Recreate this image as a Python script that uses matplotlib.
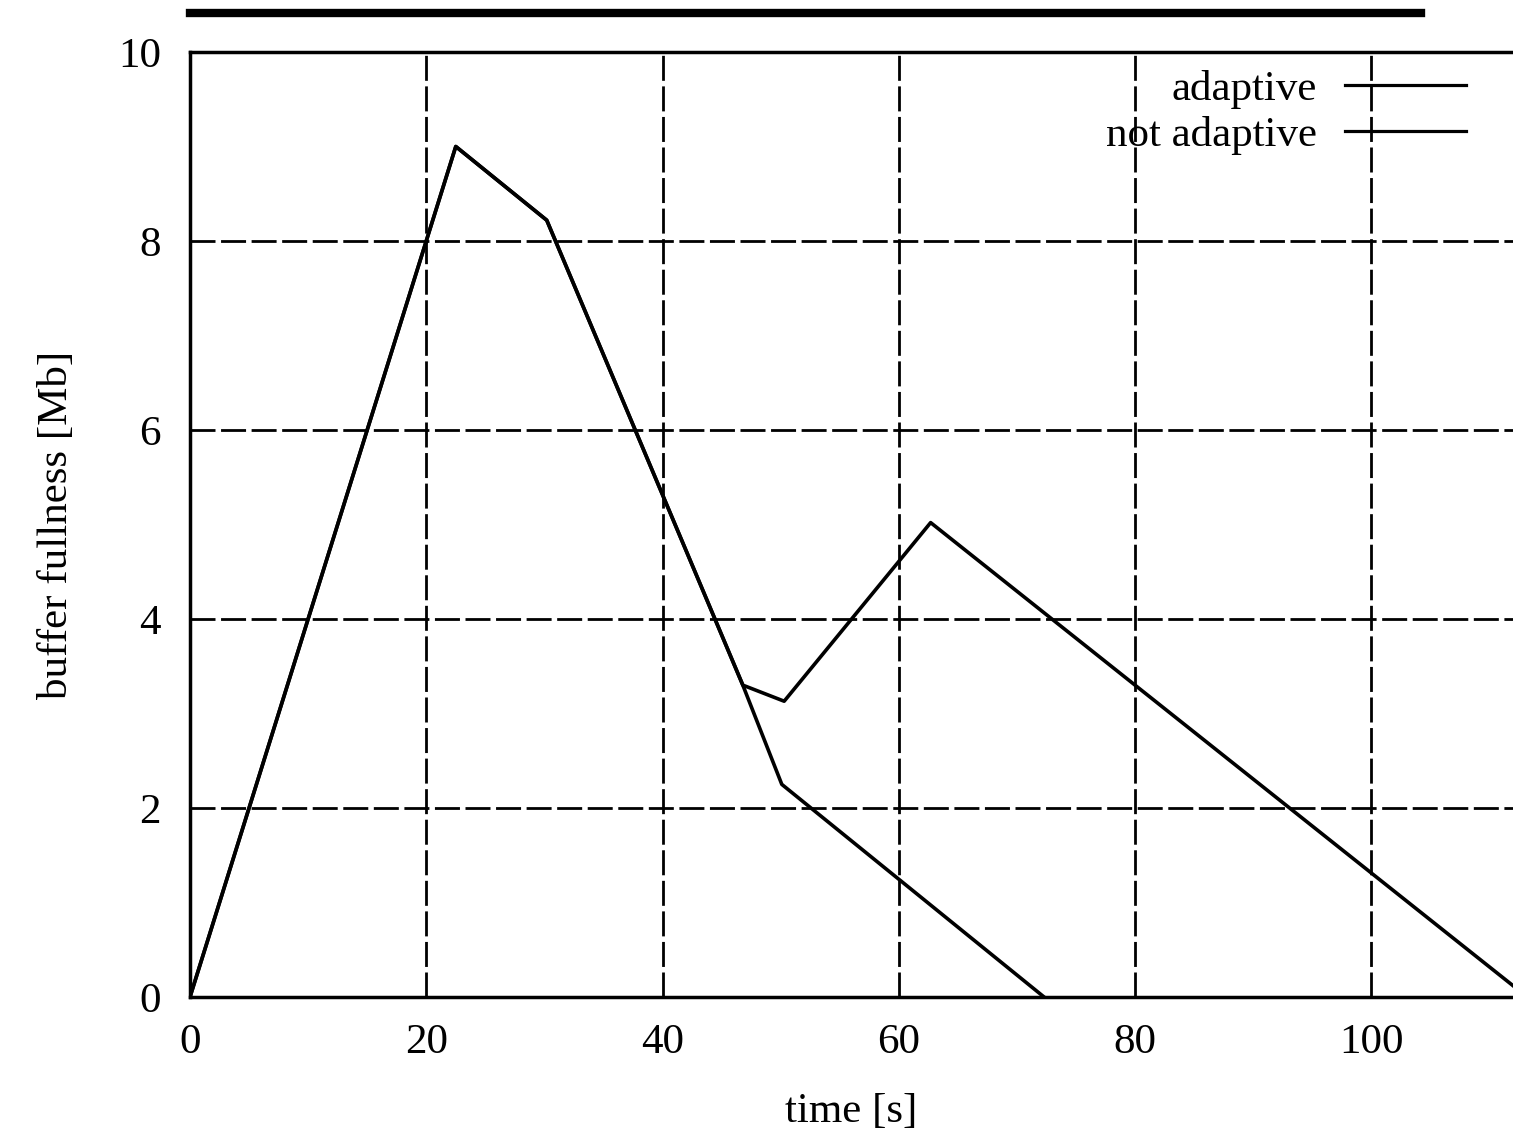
import matplotlib.pyplot as plt
from matplotlib.lines import Line2D

plt.rcParams['font.family'] = ['Liberation Serif', 'DejaVu Serif']

# common start, then the two runs split near t=47
adaptive_t = [0, 22.5, 30.2, 46.8, 50.3, 62.7, 112]
adaptive_b = [0, 9.0, 8.22, 3.3, 3.13, 5.02, 0.12]
fixed_t = [0, 22.5, 30.2, 46.8, 50.1, 72.3]
fixed_b = [0, 9.0, 8.22, 3.3, 2.25, 0.0]

xticks = [0, 20, 40, 60, 80, 100]
yticks = [0, 2, 4, 6, 8, 10]

fig = plt.figure(figsize=(15.13, 11.33), dpi=100)
ax = fig.add_axes([190/1513, 136/1133, 1323/1513, 945/1133])

ax.plot(adaptive_t, adaptive_b, color='black', lw=2.6, label='adaptive')
ax.plot(fixed_t, fixed_b, color='black', lw=2.6, label='not adaptive')

ax.set_xlim(0, 112)
ax.set_ylim(0, 10)
ax.set_xticks(xticks)
ax.set_yticks(yticks)
ax.tick_params(labelsize=31, direction='in', length=0)
ax.tick_params(axis='x', pad=19)
ax.tick_params(axis='y', pad=21)
ax.grid(True, color='black', lw=2, linestyle=(0, (9, 2)))
for s in ['left', 'bottom', 'top']:
    ax.spines[s].set_linewidth(2.5)
ax.spines['right'].set_visible(False)

ax.set_xlabel('time [s]', fontsize=31, labelpad=22)
ax.set_ylabel('buffer fullness [Mb]', fontsize=31, labelpad=30)

leg = ax.legend(loc='upper right', fontsize=31, frameon=False, markerfirst=False,
                handlelength=2.8, handletextpad=0.65, labelspacing=0.17,
                borderaxespad=0.3, bbox_to_anchor=(0.987, 1.013))
for h in leg.get_lines():
    h.set_linewidth(2.3)

# heavy rule above the plot
fig.add_artist(Line2D([190/1513, 1421/1513], [1 - 13/1133, 1 - 13/1133],
                      color='black', lw=6, transform=fig.transFigure))

fig.savefig('out.png', dpi=100)
